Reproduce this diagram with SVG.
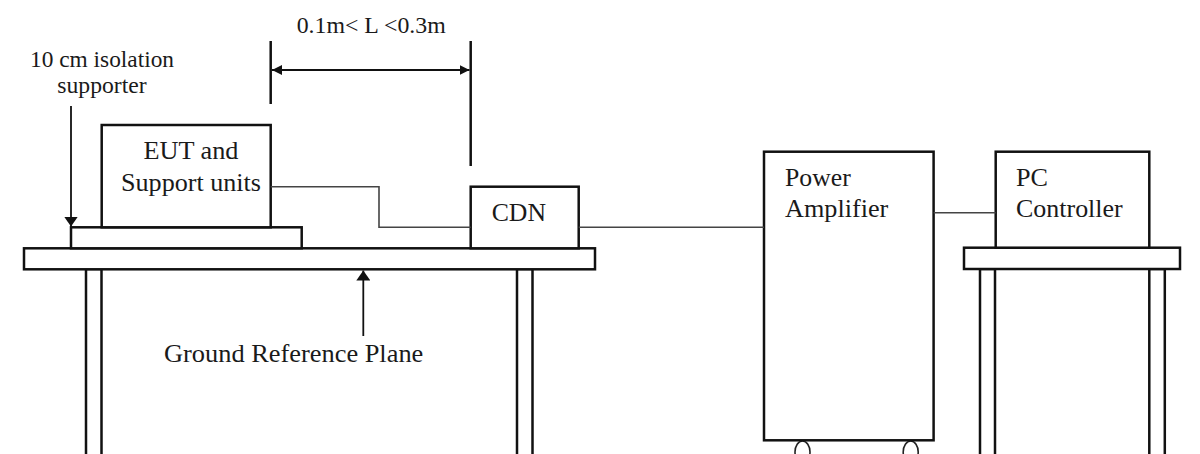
<svg xmlns="http://www.w3.org/2000/svg" width="1200" height="454" viewBox="0 0 1200 454" font-family="'Liberation Serif', 'DejaVu Serif', serif">
  <defs>
    <style>
      .box { fill: #ffffff; stroke: #111111; stroke-width: 2.5; }
      .leg { fill: #ffffff; stroke: #111111; stroke-width: 2.5; }
      .wire { fill: none; stroke: #444444; stroke-width: 1.6; }
      .dim { fill: none; stroke: #111111; stroke-width: 2.5; }
      .ptr { fill: none; stroke: #111111; stroke-width: 1.8; }
      .lbl { font-family: 'Liberation Serif', 'DejaVu Serif', serif; font-size: 26px; fill: #1a1a1a; }
      .note { font-family: 'Liberation Serif', 'DejaVu Serif', serif; font-size: 23px; fill: #1a1a1a; }
      .wheel { fill: #ffffff; stroke: #222222; stroke-width: 1.6; }
    </style>
    <marker id="tri" viewBox="0 0 10 10" refX="10" refY="5" markerWidth="10" markerHeight="10" markerUnits="userSpaceOnUse" orient="auto-start-reverse">
      <path d="M0,0 L10,5 L0,10 Z" fill="#111111"/>
    </marker>
    <marker id="triBig" viewBox="0 0 10 14" refX="10" refY="7" markerWidth="10" markerHeight="14" markerUnits="userSpaceOnUse" orient="auto-start-reverse">
      <path d="M0,0 L10,7 L0,14 Z" fill="#111111"/>
    </marker>
  </defs>
  <rect x="0" y="0" width="1200" height="454" fill="#ffffff"/>

  <g id="main-table">
    <rect class="leg" x="86" y="269" width="15.5" height="200"/>
    <rect class="leg" x="517" y="269" width="15.5" height="200"/>
    <rect class="box" x="24" y="248.3" width="571" height="21"/>
  </g>

  <g id="isolation-supporter">
    <rect class="box" x="71" y="227.3" width="230.7" height="21"/>
  </g>

  <g id="eut">
    <rect class="box" x="101.7" y="125" width="169" height="102.3"/>
    <text class="lbl" x="191" y="159.3" text-anchor="middle" textLength="95" lengthAdjust="spacingAndGlyphs">EUT and</text>
    <text class="lbl" x="191" y="191" text-anchor="middle" textLength="140" lengthAdjust="spacingAndGlyphs">Support units</text>
  </g>

  <g id="cdn">
    <rect class="box" x="470.7" y="186.7" width="108" height="61.6"/>
    <text class="lbl" x="491.7" y="220.7" textLength="54.3" lengthAdjust="spacingAndGlyphs">CDN</text>
  </g>

  <g id="power-amplifier">
    <ellipse class="wheel" cx="802.5" cy="452" rx="7.5" ry="11"/>
    <ellipse class="wheel" cx="910.7" cy="452" rx="7.5" ry="11"/>
    <rect class="box" x="764" y="151.7" width="169.6" height="288.6"/>
    <text class="lbl" x="785" y="186" textLength="65.7" lengthAdjust="spacingAndGlyphs">Power</text>
    <text class="lbl" x="785" y="216.5" textLength="103.3" lengthAdjust="spacingAndGlyphs">Amplifier</text>
  </g>

  <g id="pc-table">
    <rect class="leg" x="980" y="269" width="15" height="200"/>
    <rect class="leg" x="1149.3" y="269" width="15.5" height="200"/>
    <rect class="box" x="964" y="247.7" width="216" height="21.3"/>
  </g>

  <g id="pc-controller">
    <rect class="box" x="995.7" y="151.7" width="153.6" height="96"/>
    <text class="lbl" x="1016" y="186" textLength="32" lengthAdjust="spacingAndGlyphs">PC</text>
    <text class="lbl" x="1016" y="216.5" textLength="106.7" lengthAdjust="spacingAndGlyphs">Controller</text>
  </g>

  <g id="connectors">
    <polyline class="wire" points="270.7,186.7 379,186.7 379,227.3 470.7,227.3"/>
    <line class="wire" x1="578.7" y1="227.3" x2="764" y2="227.3"/>
    <line class="wire" x1="933.6" y1="212.7" x2="995.7" y2="212.7"/>
  </g>

  <g id="dimension">
    <line class="dim" x1="270.7" y1="41" x2="270.7" y2="104"/>
    <line class="dim" x1="470.7" y1="41" x2="470.7" y2="166"/>
    <line class="ptr" x1="272" y1="70" x2="469.5" y2="70" marker-start="url(#tri)" marker-end="url(#tri)"/>
    <text class="note" x="296.7" y="33.3" textLength="149" lengthAdjust="spacingAndGlyphs">0.1m&lt; L &lt;0.3m</text>
  </g>

  <g id="supporter-label">
    <line class="ptr" x1="71" y1="106" x2="71" y2="226.5" marker-end="url(#triBig)"/>
    <text class="note" x="102" y="66.7" text-anchor="middle" textLength="144" lengthAdjust="spacingAndGlyphs">10 cm isolation</text>
    <text class="note" x="102" y="93.3" text-anchor="middle" textLength="89.4" lengthAdjust="spacingAndGlyphs">supporter</text>
  </g>

  <g id="grp-label">
    <line class="ptr" x1="363.3" y1="336" x2="363.3" y2="270.5" marker-end="url(#triBig)"/>
    <text class="lbl" x="164" y="361.7" textLength="259.3" lengthAdjust="spacingAndGlyphs">Ground Reference Plane</text>
  </g>
</svg>
